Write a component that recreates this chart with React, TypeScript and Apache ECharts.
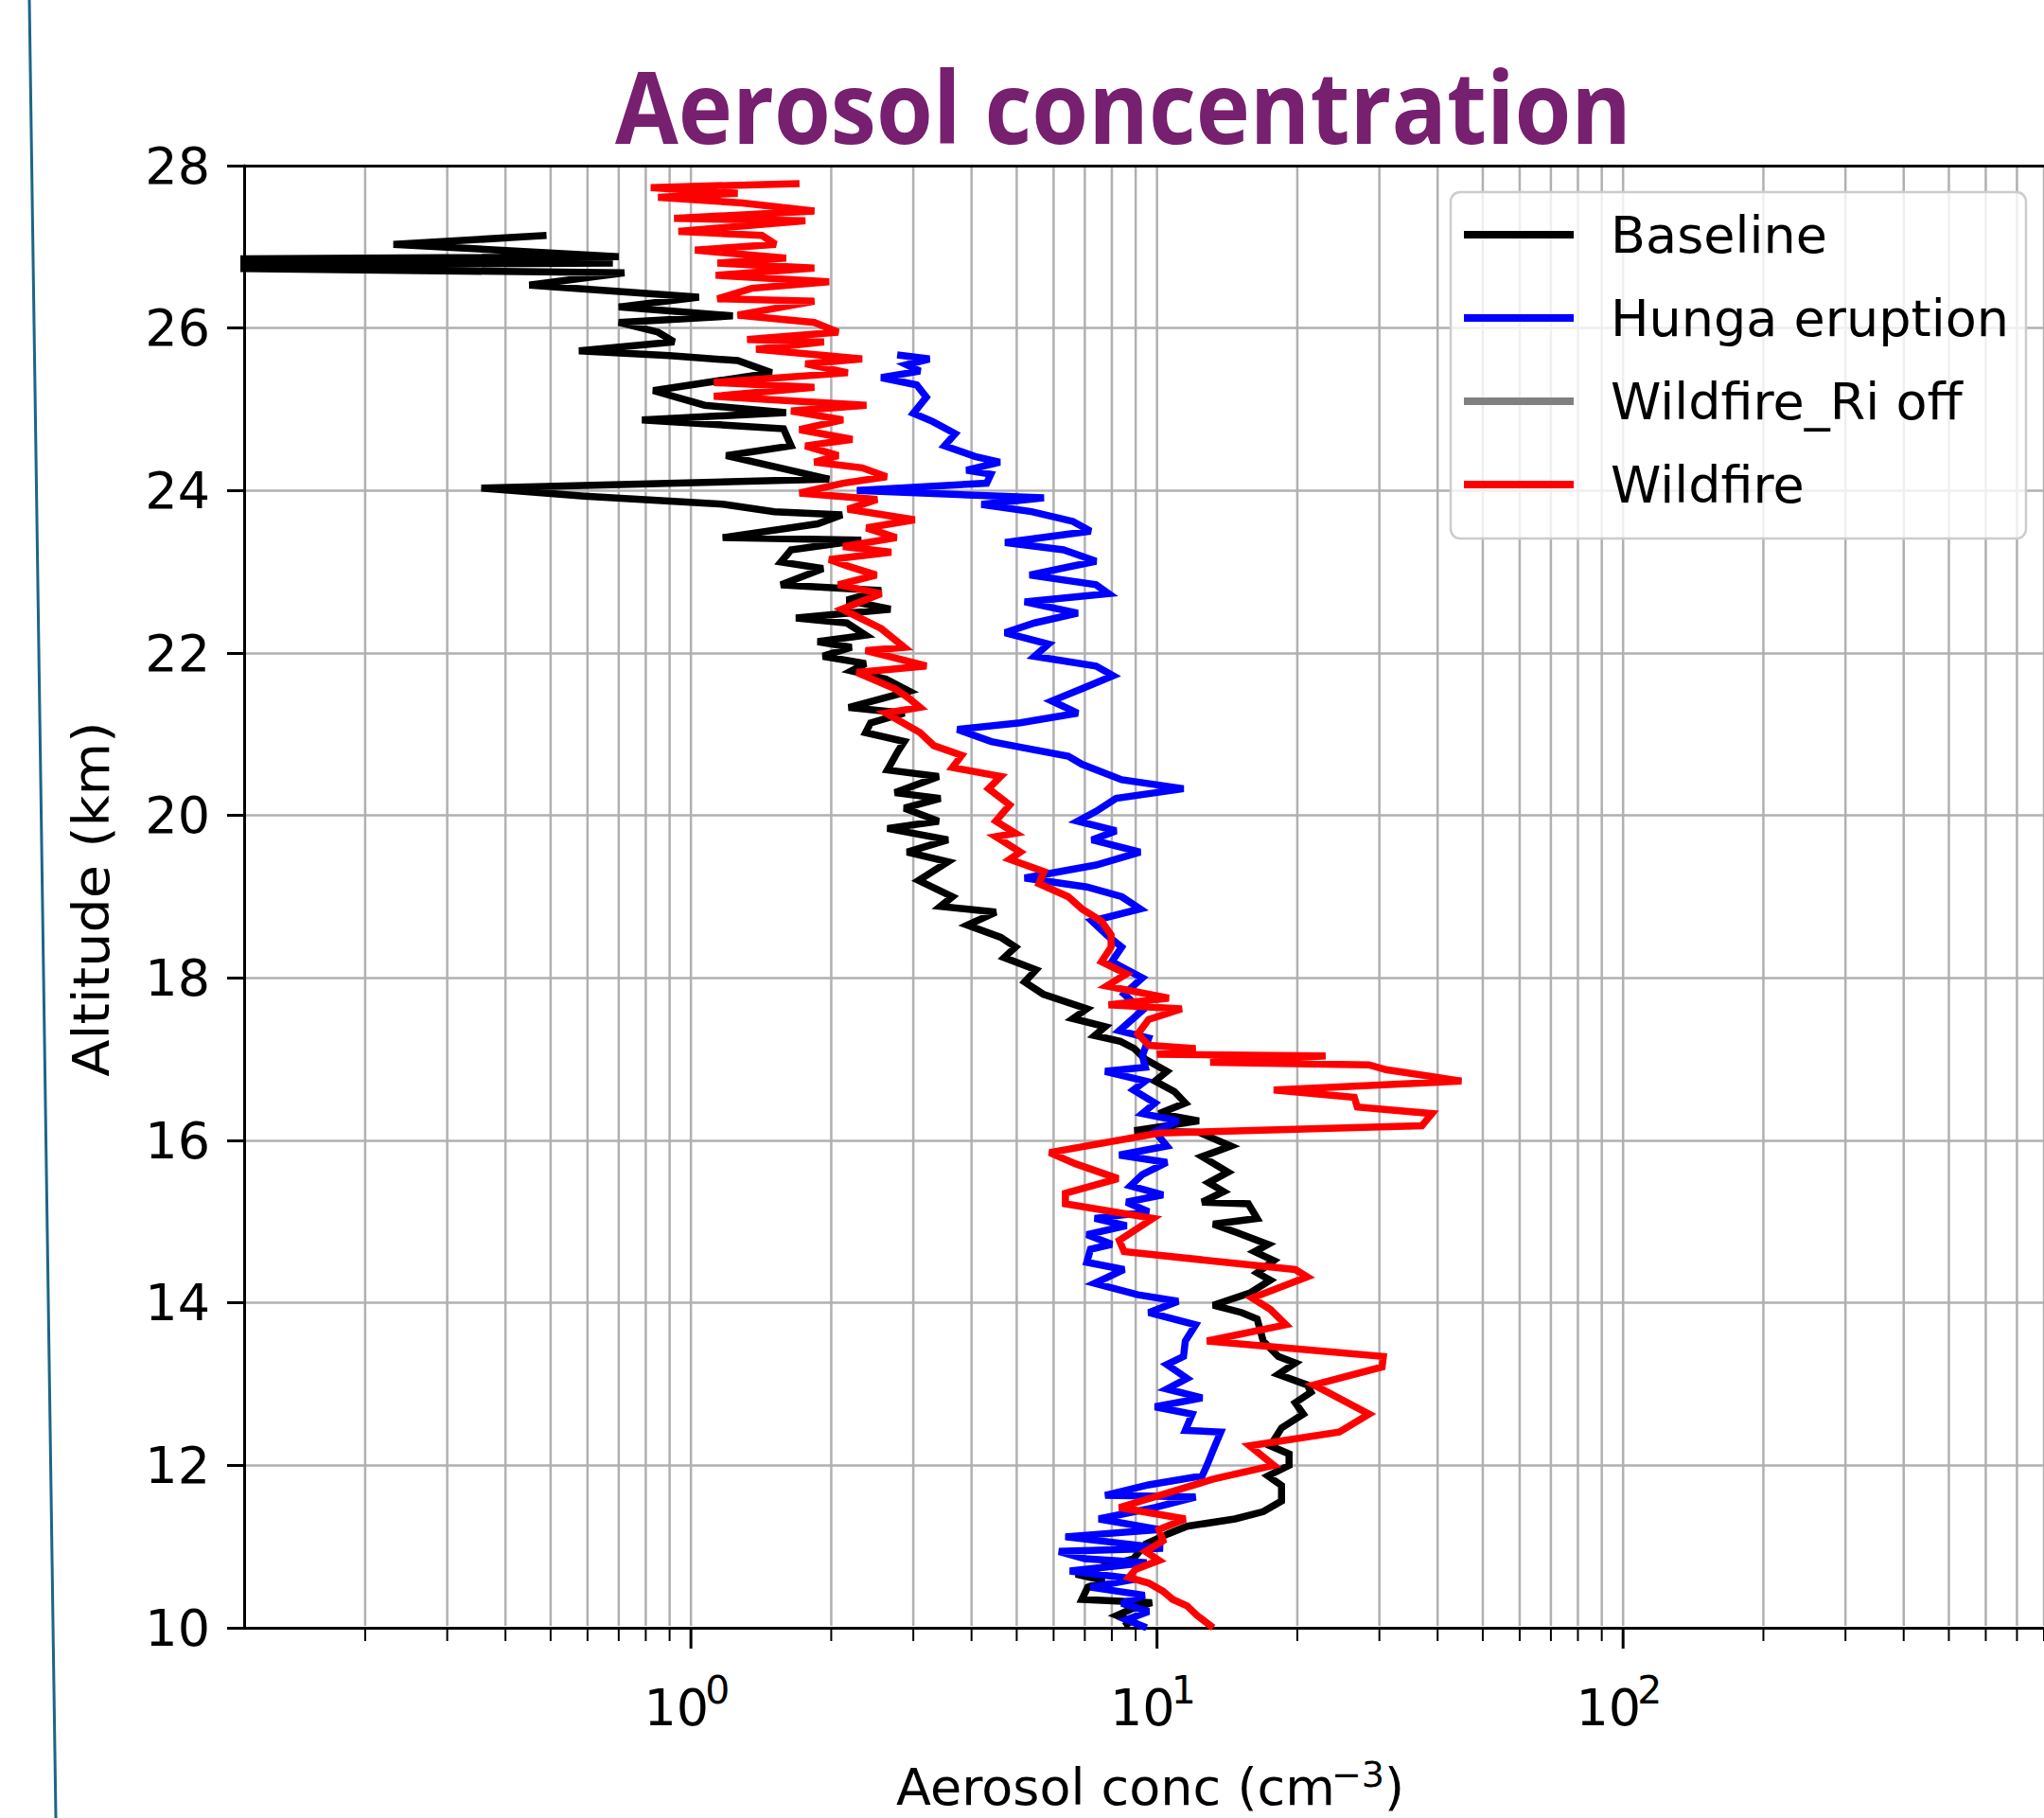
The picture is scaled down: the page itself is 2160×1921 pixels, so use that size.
import React, { useEffect, useRef } from 'react';
import * as echarts from 'echarts';

// ---------- data ----------
const seriesNames = ['Baseline', 'Hunga eruption', 'Wildfire_Ri off', 'Wildfire'];
const seriesColors = ['#000000', '#0000ff', '#808080', '#ff0000'];

// [aerosol concentration (cm^-3), altitude (km)]
const baseline: number[][] = [
  [0.49, 27.14], [0.23, 27.03], [0.70, 26.88], [0.04, 26.84], [0.68, 26.80], [0.04, 26.76], [0.72, 26.68],
  [0.45, 26.53], [1.04, 26.38], [0.70, 26.26], [1.23, 26.15], [0.70, 26.07], [0.85, 25.95], [0.92, 25.83],
  [0.575, 25.72], [0.90, 25.66], [1.26, 25.60], [1.49, 25.45], [0.83, 25.23], [1.07, 25.05], [1.60, 24.96],
  [0.785, 24.87], [1.58, 24.76], [1.64, 24.55], [1.19, 24.43], [1.98, 24.14], [0.355, 24.03], [0.59, 23.93],
  [1.18, 23.83], [1.51, 23.74], [2.11, 23.70], [1.87, 23.59], [1.17, 23.42], [2.32, 23.39], [1.64, 23.27],
  [1.56, 23.12], [1.92, 23.04], [1.56, 22.84], [2.56, 22.77], [2.16, 22.65], [2.68, 22.54], [1.68, 22.43],
  [2.16, 22.37], [2.37, 22.22], [1.87, 22.14], [2.21, 22.07], [1.92, 21.96], [2.37, 21.87], [2.21, 21.78],
  [2.62, 21.68], [2.94, 21.53], [2.18, 21.33], [2.87, 21.26], [2.43, 21.14], [2.37, 21.02], [2.87, 20.91],
  [2.78, 20.79], [2.64, 20.56], [3.40, 20.48], [2.74, 20.28], [3.43, 20.21], [2.87, 20.09], [3.40, 19.93],
  [2.64, 19.84], [3.56, 19.70], [2.91, 19.55], [3.56, 19.43], [3.08, 19.20], [3.64, 19.00], [3.43, 18.88],
  [4.51, 18.81], [3.92, 18.65], [4.62, 18.50], [4.97, 18.38], [4.7, 18.25], [5.5, 18.1], [5.2, 17.95],
  [5.7, 17.8], [7.07, 17.62], [6.6, 17.5], [7.74, 17.4], [7.35, 17.29], [8.34, 17.22], [8.94, 17.13],
  [9.44, 17.0], [10.5, 16.85], [9.9, 16.73], [10.9, 16.6], [11.5, 16.46], [10.1, 16.33], [12.3, 16.24],
  [8.94, 16.12], [12.3, 16.1], [14.4, 15.93], [12.5, 15.8], [14.2, 15.61], [12.9, 15.48], [13.9, 15.37],
  [12.5, 15.24], [15.7, 15.22], [16.4, 15.04], [13.2, 14.97], [14.9, 14.86], [17.3, 14.72], [16.2, 14.63],
  [17.8, 14.52], [16.4, 14.37], [17.5, 14.28], [15.8, 14.12], [13.2, 13.97], [15.2, 13.88], [16.4, 13.8],
  [16.9, 13.53], [18.2, 13.34], [19.8, 13.26], [18.2, 13.12], [21.0, 12.99], [21.4, 12.9], [19.8, 12.77],
  [20.6, 12.63], [18.5, 12.46], [17.5, 12.24], [19.2, 12.14], [19.2, 12.0], [17.3, 11.87], [18.5, 11.75],
  [18.5, 11.56], [16.9, 11.43], [14.7, 11.34], [11.6, 11.25], [10.6, 11.16], [9.45, 11.03], [8.9, 10.85],
  [6.7, 10.66], [7.7, 10.58], [7.1, 10.5], [6.9, 10.35], [9.75, 10.31], [8.8, 10.23], [8.2, 10.15],
  [8.8, 10.08], [8.5, 10.02],
];

const hunga: number[][] = [
  [2.77, 25.67], [3.25, 25.62], [2.9, 25.55], [3.1, 25.47], [2.56, 25.39], [3.05, 25.30], [3.2, 25.15],
  [3.0, 24.95], [3.3, 24.85], [3.69, 24.70], [3.5, 24.55], [4.07, 24.42], [4.6, 24.35], [3.9, 24.25],
  [4.4, 24.20], [4.31, 24.09], [2.27, 24.0], [5.72, 23.91], [4.2, 23.83], [5.38, 23.74], [6.6, 23.62],
  [7.2, 23.50], [4.72, 23.36], [6.3, 23.27], [7.4, 23.13], [5.33, 22.96], [7.4, 22.84], [7.87, 22.73],
  [5.2, 22.63], [6.76, 22.49], [5.46, 22.37], [4.72, 22.25], [5.85, 22.11], [5.46, 21.96], [7.4, 21.84],
  [8.05, 21.72], [6.9, 21.56], [5.95, 21.41], [6.76, 21.26], [5.09, 21.14], [3.73, 21.06], [4.41, 20.91],
  [5.2, 20.83], [6.45, 20.73], [6.9, 20.63], [8.4, 20.44], [11.4, 20.33], [8.17, 20.21], [7.4, 20.05],
  [6.76, 19.93], [8.17, 19.81], [7.25, 19.70], [9.2, 19.55], [7.4, 19.39], [5.2, 19.23], [7.07, 19.12],
  [8.4, 19.0], [9.2, 18.85], [7.25, 18.70], [7.8, 18.53], [8.4, 18.38], [8.0, 18.2], [9.3, 18.0],
  [8.5, 17.8], [9.3, 17.6], [8.3, 17.35], [9.6, 17.26], [9.3, 17.04], [9.44, 16.9], [7.74, 16.85],
  [9.44, 16.73], [8.9, 16.62], [9.9, 16.46], [9.3, 16.33], [11.1, 16.24], [9.9, 16.11], [10.5, 15.93],
  [8.3, 15.82], [10.5, 15.73], [9.3, 15.58], [8.77, 15.44], [10.3, 15.33], [8.6, 15.24], [9.6, 15.12],
  [7.35, 15.04], [8.6, 14.95], [7.07, 14.84], [8.0, 14.72], [7.2, 14.66], [7.07, 14.50], [8.5, 14.41],
  [7.35, 14.24], [9.1, 14.10], [11.1, 14.02], [9.6, 13.88], [12.1, 13.73], [11.5, 13.53], [11.4, 13.34],
  [10.5, 13.24], [11.6, 13.07], [10.5, 12.94], [12.5, 12.83], [9.9, 12.72], [11.9, 12.63], [11.5, 12.43],
  [13.7, 12.41], [13.2, 12.19], [12.8, 12.0], [12.5, 11.87], [9.6, 11.76], [7.74, 11.63], [12.1, 11.61],
  [9.9, 11.48], [7.5, 11.34], [10.1, 11.21], [6.36, 11.12], [10.3, 10.98], [6.16, 10.94], [7.0, 10.85],
  [9.5, 10.8], [6.5, 10.7], [9.0, 10.6], [7.2, 10.5], [9.4, 10.4], [8.4, 10.3], [9.6, 10.2],
  [8.6, 10.1], [9.5, 10.0],
];

const wildfireRiOff: number[][] = [];

const wildfire: number[][] = [
  [1.71, 27.78], [0.82, 27.73], [1.26, 27.66], [0.85, 27.61], [1.29, 27.54], [1.84, 27.44], [0.92, 27.35],
  [1.76, 27.32], [0.94, 27.19], [1.42, 27.14], [1.52, 27.03], [1.02, 26.96], [1.60, 26.86], [1.14, 26.80],
  [1.84, 26.74], [1.13, 26.65], [1.98, 26.57], [1.35, 26.49], [1.14, 26.36], [1.84, 26.33], [1.26, 26.16],
  [1.84, 26.07], [2.07, 25.95], [1.32, 25.86], [1.93, 25.83], [1.38, 25.74], [2.33, 25.62], [1.76, 25.56],
  [2.17, 25.45], [1.12, 25.33], [1.84, 25.27], [1.12, 25.16], [2.38, 25.05], [1.64, 24.98], [2.12, 24.87],
  [1.71, 24.75], [2.22, 24.63], [1.76, 24.55], [2.07, 24.43], [1.84, 24.35], [2.33, 24.28], [2.63, 24.17],
  [2.12, 24.09], [1.71, 23.97], [2.51, 23.89], [2.17, 23.77], [3.02, 23.64], [2.38, 23.54], [2.76, 23.42],
  [2.12, 23.31], [2.69, 23.24], [1.98, 23.15], [2.17, 23.07], [2.5, 22.96], [2.07, 22.84], [2.56, 22.73],
  [2.11, 22.54], [2.56, 22.30], [2.87, 22.07], [2.37, 22.03], [3.2, 21.84], [2.27, 21.76], [2.74, 21.56],
  [2.94, 21.44], [3.10, 21.33], [2.62, 21.26], [3.10, 21.02], [3.32, 20.86], [3.81, 20.74], [3.64, 20.59],
  [4.62, 20.48], [4.35, 20.33], [4.83, 20.13], [4.51, 19.93], [4.97, 19.78], [4.51, 19.74], [5.09, 19.55],
  [4.83, 19.46], [5.72, 19.31], [5.58, 19.16], [6.45, 19.0], [6.9, 18.85], [7.6, 18.70], [7.97, 18.53],
  [7.97, 18.38], [7.6, 18.2], [8.6, 18.05], [7.8, 17.9], [10.6, 17.75], [7.87, 17.67], [11.3, 17.62],
  [9.6, 17.49], [9.1, 17.31], [9.6, 17.17], [12.1, 17.13], [10.0, 17.06], [23.0, 17.04], [13.0, 16.96],
  [28.5, 16.93], [31.0, 16.87], [45.0, 16.73], [17.8, 16.62], [26.5, 16.53], [26.9, 16.41], [38.9, 16.33],
  [37.0, 16.18], [10.1, 16.09], [5.88, 15.85], [6.7, 15.71], [8.25, 15.53], [6.36, 15.35], [6.36, 15.22],
  [9.8, 15.04], [8.3, 14.77], [8.5, 14.63], [19.8, 14.41], [21.0, 14.32], [16.0, 14.06], [17.5, 13.92],
  [18.9, 13.73], [12.8, 13.53], [30.6, 13.34], [30.4, 13.21], [21.7, 12.99], [28.5, 12.63], [24.6, 12.41],
  [15.8, 12.24], [17.8, 12.0], [13.2, 11.83], [8.3, 11.48], [11.5, 11.34], [10.1, 11.21], [10.3, 11.07],
  [9.45, 10.94], [10.1, 10.83], [9.0, 10.72], [8.7, 10.62], [9.6, 10.55], [10.3, 10.45], [10.8, 10.35],
  [11.6, 10.27], [12.2, 10.15], [13.2, 10.0],
];

const seriesData = [baseline, hunga, wildfireRiOff, wildfire];

// axes
const yMin = 10;
const yMax = 28;
const yStep = 2;
const xMin = 0.11;
const xMax = 800;
const xGridValues = [
  0.2, 0.3, 0.4, 0.5, 0.6, 0.7, 0.8, 0.9,
  1, 2, 3, 4, 5, 6, 7, 8, 9,
  10, 20, 30, 40, 50, 60, 70, 80, 90,
  100, 200, 300, 400, 500, 600, 700, 800,
];
const xMajorValues = [1, 10, 100];
const xMajorExponents = ['0', '1', '2'];

const titleText = 'Aerosol concentration';
const yTitle = 'Altitude (km)';
const xTitleMain = 'Aerosol conc (cm';
const xTitleSup = '\u22123';
const xTitleEnd = ')';

const FONT = 'DejaVu Sans';

export default function App() {
  const ref = useRef<HTMLDivElement>(null);

  useEffect(() => {
    if (!ref.current) return;
    const chart = echarts.init(ref.current, undefined, { renderer: 'svg' });

    const gridSeries = {
      type: 'custom',
      name: '__grid',
      coordinateSystem: 'cartesian2d',
      clip: false,
      silent: true,
      z: 1,
      encode: { x: 0, y: 1 },
      data: xGridValues.map((v) => [v, yMin]),
      renderItem: (params: any, api: any) => {
        const v = api.value(0);
        const top = api.coord([v, yMax]);
        const bot = api.coord([v, yMin]);
        const idx = xMajorValues.indexOf(v);
        const isMajor = idx >= 0;
        const children: any[] = [
          {
            type: 'line',
            shape: { x1: top[0], y1: top[1] + 2, x2: bot[0], y2: bot[1] - 2 },
            style: { stroke: '#b0b0b0', lineWidth: 2.5 },
          },
          {
            type: 'line',
            shape: { x1: bot[0], y1: bot[1] + 1, x2: bot[0], y2: bot[1] + (isMajor ? 22 : 14) },
            style: { stroke: '#000', lineWidth: isMajor ? 3 : 2 },
          },
        ];
        if (isMajor) {
          children.push({
            type: 'text',
            x: bot[0] + 19,
            y: bot[1] + 84,
            style: {
              text: '10', fontFamily: FONT, fontSize: 54, fill: '#000',
              align: 'right', verticalAlign: 'middle',
            },
          });
          children.push({
            type: 'text',
            x: bot[0] + 15,
            y: bot[1] + 66,
            style: {
              text: xMajorExponents[idx], fontFamily: FONT, fontSize: 41, fill: '#000',
              align: 'left', verticalAlign: 'middle',
            },
          });
        }
        return { type: 'group', children };
      },
    };

    const lineSeries = seriesNames.map((name, i) => ({
      type: 'line',
      name,
      data: seriesData[i],
      color: seriesColors[i],
      showSymbol: false,
      symbol: 'none',
      z: 2,
      lineStyle: { width: 7.5, color: seriesColors[i], join: 'miter', miterLimit: 3 },
      emphasis: { disabled: true },
    }));

    const option: any = {
      animation: false,
      backgroundColor: '#ffffff',
      grid: { left: 258, top: 175, right: -10, bottom: 201, containLabel: false },
      xAxis: [
        {
          type: 'log',
          logBase: 10,
          min: xMin,
          max: xMax,
          position: 'bottom',
          axisLine: { show: true, onZero: false, lineStyle: { color: '#000', width: 3 } },
          axisTick: { show: false },
          axisLabel: { show: false },
          splitLine: { show: false },
          minorTick: { show: false },
          minorSplitLine: { show: false },
        },
        {
          type: 'log',
          logBase: 10,
          min: xMin,
          max: xMax,
          position: 'top',
          axisLine: { show: true, onZero: false, lineStyle: { color: '#000', width: 3 } },
          axisTick: { show: false },
          axisLabel: { show: false },
          splitLine: { show: false },
        },
      ],
      yAxis: {
        type: 'value',
        min: yMin,
        max: yMax,
        interval: yStep,
        axisLine: { show: true, onZero: false, lineStyle: { color: '#000', width: 3 } },
        axisTick: { show: true, inside: false, length: 18, lineStyle: { color: '#000', width: 3 } },
        axisLabel: { show: true, margin: 36, fontFamily: FONT, fontSize: 54, color: '#000' },
        splitLine: { show: true, showMinLine: false, showMaxLine: false, lineStyle: { color: '#b0b0b0', width: 2.5 } },
      },
      legend: {
        show: true,
        data: seriesNames,
        orient: 'vertical',
        left: 1533,
        top: 203,
        padding: [15, 18, 27, 14],
        itemWidth: 116,
        itemHeight: 8,
        itemGap: 28,
        icon: 'rect',
        selectedMode: false,
        backgroundColor: 'rgba(255,255,255,0.8)',
        borderColor: '#cccccc',
        borderWidth: 2.5,
        borderRadius: 10,
        textStyle: { fontFamily: FONT, fontSize: 54, color: '#000', lineHeight: 60, padding: [0, 0, 0, 34] },
        z: 10,
      },
      graphic: [
        {
          type: 'line',
          shape: { x1: 31, y1: 0, x2: 59, y2: 1921 },
          style: { stroke: '#1b6688', lineWidth: 3 },
          silent: true,
        },
        {
          type: 'text',
          x: 1187,
          y: 111,
          scaleX: 0.922,
          style: {
            text: titleText, fontFamily: 'Open Sans', fontWeight: 'bold', fontSize: 105,
            fill: '#76206f', align: 'center', verticalAlign: 'middle',
          },
          silent: true,
        },
        {
          type: 'text',
          x: 96,
          y: 950,
          rotation: Math.PI / 2,
          scaleX: 1.06,
          style: {
            text: yTitle, fontFamily: FONT, fontSize: 54, fill: '#000',
            align: 'center', verticalAlign: 'middle',
          },
          silent: true,
        },
        {
          type: 'text',
          x: 947,
          y: 1888,
          style: { text: xTitleMain, fontFamily: FONT, fontSize: 54, fill: '#000', align: 'left', verticalAlign: 'middle' },
          silent: true,
        },
        {
          type: 'text',
          x: 1407,
          y: 1875,
          style: { text: xTitleSup, fontFamily: FONT, fontSize: 38, fill: '#000', align: 'left', verticalAlign: 'middle' },
          silent: true,
        },
        {
          type: 'text',
          x: 1463,
          y: 1888,
          style: { text: xTitleEnd, fontFamily: FONT, fontSize: 54, fill: '#000', align: 'left', verticalAlign: 'middle' },
          silent: true,
        },
      ],
      series: [gridSeries, ...lineSeries],
    };

    chart.setOption(option);
    return () => chart.dispose();
  }, []);

  return (
    <div
      ref={ref}
      style={{ position: 'fixed', left: 0, top: 0, width: 2160, height: 1921, background: '#fff' }}
    />
  );
}
